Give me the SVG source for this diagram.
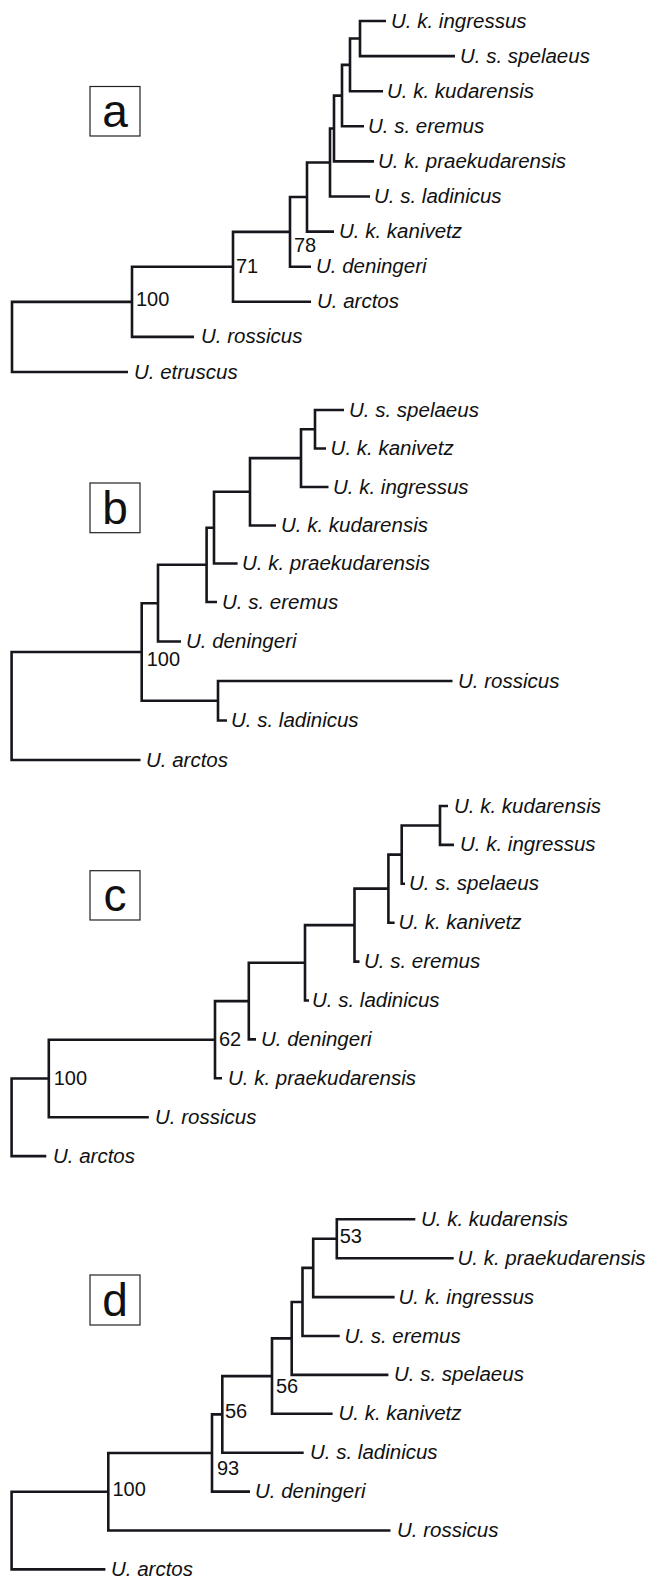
<svg xmlns="http://www.w3.org/2000/svg" width="646" height="1577" viewBox="0 0 646 1577">
<style>
.br{fill:none;stroke:#16161c;stroke-width:2.6;stroke-linejoin:miter;stroke-linecap:butt}
.lf{font-family:"Liberation Sans",Arial,sans-serif;font-style:italic;font-size:20.5px;fill:#111}
.sv{font-family:"Liberation Sans",Arial,sans-serif;font-size:20px;fill:#111}
.bx{fill:#fff;stroke:#222;stroke-width:1.2}
.pl{font-family:"Liberation Sans",Arial,sans-serif;font-size:46px;fill:#111;text-anchor:middle}
</style>
<rect width="646" height="1577" fill="#fff"/>
<g id="connectors">
<!-- panel a -->
<path class="br" d="M386,21 H360 V56.1 H455"/>
<path class="br" d="M360,38.5 H350 V91.2 H383"/>
<path class="br" d="M350,64.9 H342 V126.3 H364"/>
<path class="br" d="M342,95.6 H334 V161.4 H374"/>
<path class="br" d="M334,128.5 H330 V196.5 H370"/>
<path class="br" d="M330,162.5 H307 V231.6 H334"/>
<path class="br" d="M307,197 H290 V266.7 H311"/>
<path class="br" d="M290,231.9 H233 V301.8 H311"/>
<path class="br" d="M233,266.8 H132 V336.9 H194"/>
<path class="br" d="M132,301.9 H12 V372 H128"/>
<!-- panel b -->
<path class="br" d="M344,410 H315 V448.5 H326"/>
<path class="br" d="M315,429.25 H301 V487 H328.5"/>
<path class="br" d="M301,458.1 H250 V525.5 H276"/>
<path class="br" d="M250,491.8 H214 V563.5 H237.6"/>
<path class="br" d="M214,527.7 H206.6 V602 H217"/>
<path class="br" d="M206.6,564.8 H158 V641.5 H181"/>
<path class="br" d="M452.5,681 H218 V720.5 H227"/>
<path class="br" d="M158,603.2 H141.7 V700.75 H218"/>
<path class="br" d="M141.7,652 H11.6 V760 H140.5"/>
<!-- panel c -->
<path class="br" d="M448,806 H440 V844.9 H454"/>
<path class="br" d="M440,825.45 H401.7 V883.8 H405"/>
<path class="br" d="M401.7,854.6 H388.4 V922.7 H394.6"/>
<path class="br" d="M388.4,888.65 H354.5 V961.6 H359.5"/>
<path class="br" d="M354.5,925.1 H305 V1000.5 H309"/>
<path class="br" d="M305,962.8 H248.8 V1039.4 H256"/>
<path class="br" d="M248.8,1001.1 H215 V1078.3 H222"/>
<path class="br" d="M215,1039.7 H48.8 V1117.2 H148.8"/>
<path class="br" d="M48.8,1078.45 H11.6 V1156.1 H46.3"/>
<!-- panel d -->
<path class="br" d="M415.3,1219.3 H336.8 V1258.2 H453.7"/>
<path class="br" d="M336.8,1238.75 H313.2 V1297.1 H394.6"/>
<path class="br" d="M313.2,1267.9 H302.5 V1336 H339.7"/>
<path class="br" d="M302.5,1301.95 H291.7 V1374.9 H388.4"/>
<path class="br" d="M291.7,1338.4 H272 V1413.8 H332.6"/>
<path class="br" d="M272,1376.1 H222.3 V1452.7 H303.7"/>
<path class="br" d="M222.3,1414.4 H212 V1491.6 H250"/>
<path class="br" d="M212,1453 H108.3 V1530.5 H390.5"/>
<path class="br" d="M108.3,1491.75 H11.6 V1569.4 H105.4"/>
</g>
<g id="panel-labels">
<g id="label-a"><rect class="bx" x="90" y="86.5" width="50" height="49.5"/><text class="pl" x="115" y="126.8">a</text></g>
<g id="label-b"><rect class="bx" x="90" y="483" width="50" height="49.7"/><text class="pl" x="115" y="523.5">b</text></g>
<g id="label-c"><rect class="bx" x="90" y="870.7" width="50" height="49.3"/><text class="pl" x="115" y="910.8">c</text></g>
<g id="label-d"><rect class="bx" x="90" y="1275" width="50" height="50"/><text class="pl" x="115" y="1315.5">d</text></g>
</g>
<g id="tree-a">
<g id="a-ingressus"><text class="lf" x="391" y="27.5">U. k. ingressus</text></g>
<g id="a-spelaeus"><text class="lf" x="460" y="62.6">U. s. spelaeus</text></g>
<g id="a-kudarensis"><text class="lf" x="387" y="97.7">U. k. kudarensis</text></g>
<g id="a-eremus"><text class="lf" x="368" y="132.8">U. s. eremus</text></g>
<g id="a-praekudarensis"><text class="lf" x="378" y="167.9">U. k. praekudarensis</text></g>
<g id="a-ladinicus"><text class="lf" x="374" y="203">U. s. ladinicus</text></g>
<g id="a-kanivetz"><text class="lf" x="339" y="238.1">U. k. kanivetz</text></g>
<g id="a-deningeri"><text class="lf" x="316" y="273.2">U. deningeri</text></g>
<g id="a-arctos"><text class="lf" x="317" y="308.3">U. arctos</text></g>
<g id="a-rossicus"><text class="lf" x="201" y="343.4">U. rossicus</text></g>
<g id="a-etruscus"><text class="lf" x="134" y="378.5">U. etruscus</text></g>
<g id="a-s100"><text class="sv" x="136" y="306">100</text></g>
<g id="a-s71"><text class="sv" x="236" y="273">71</text></g>
<g id="a-s78"><text class="sv" x="294" y="252">78</text></g>
</g>
<g id="tree-b">
<g id="b-spelaeus"><text class="lf" x="349" y="416.5">U. s. spelaeus</text></g>
<g id="b-kanivetz"><text class="lf" x="330.6" y="455">U. k. kanivetz</text></g>
<g id="b-ingressus"><text class="lf" x="333" y="493.5">U. k. ingressus</text></g>
<g id="b-kudarensis"><text class="lf" x="281" y="532">U. k. kudarensis</text></g>
<g id="b-praekudarensis"><text class="lf" x="242" y="570">U. k. praekudarensis</text></g>
<g id="b-eremus"><text class="lf" x="222" y="608.5">U. s. eremus</text></g>
<g id="b-deningeri"><text class="lf" x="186" y="648">U. deningeri</text></g>
<g id="b-rossicus"><text class="lf" x="458" y="687.5">U. rossicus</text></g>
<g id="b-ladinicus"><text class="lf" x="231" y="727">U. s. ladinicus</text></g>
<g id="b-arctos"><text class="lf" x="146" y="766.5">U. arctos</text></g>
<g id="b-s100"><text class="sv" x="146.7" y="666">100</text></g>
</g>
<g id="tree-c">
<g id="c-kudarensis"><text class="lf" x="454" y="812.5">U. k. kudarensis</text></g>
<g id="c-ingressus"><text class="lf" x="460" y="851.4">U. k. ingressus</text></g>
<g id="c-spelaeus"><text class="lf" x="409" y="890.3">U. s. spelaeus</text></g>
<g id="c-kanivetz"><text class="lf" x="398.5" y="929.2">U. k. kanivetz</text></g>
<g id="c-eremus"><text class="lf" x="364" y="968.1">U. s. eremus</text></g>
<g id="c-ladinicus"><text class="lf" x="312" y="1007">U. s. ladinicus</text></g>
<g id="c-deningeri"><text class="lf" x="261" y="1045.9">U. deningeri</text></g>
<g id="c-praekudarensis"><text class="lf" x="228" y="1084.8">U. k. praekudarensis</text></g>
<g id="c-rossicus"><text class="lf" x="155" y="1123.7">U. rossicus</text></g>
<g id="c-arctos"><text class="lf" x="53" y="1162.6">U. arctos</text></g>
<g id="c-s62"><text class="sv" x="219" y="1046">62</text></g>
<g id="c-s100"><text class="sv" x="53.7" y="1085">100</text></g>
</g>
<g id="tree-d">
<g id="d-kudarensis"><text class="lf" x="421" y="1225.8">U. k. kudarensis</text></g>
<g id="d-praekudarensis"><text class="lf" x="457.5" y="1264.7">U. k. praekudarensis</text></g>
<g id="d-ingressus"><text class="lf" x="398.5" y="1303.6">U. k. ingressus</text></g>
<g id="d-eremus"><text class="lf" x="344.5" y="1342.5">U. s. eremus</text></g>
<g id="d-spelaeus"><text class="lf" x="394" y="1381.4">U. s. spelaeus</text></g>
<g id="d-kanivetz"><text class="lf" x="338.5" y="1420.3">U. k. kanivetz</text></g>
<g id="d-ladinicus"><text class="lf" x="310" y="1459.2">U. s. ladinicus</text></g>
<g id="d-deningeri"><text class="lf" x="255" y="1498.1">U. deningeri</text></g>
<g id="d-rossicus"><text class="lf" x="397" y="1537">U. rossicus</text></g>
<g id="d-arctos"><text class="lf" x="111" y="1575.9">U. arctos</text></g>
<g id="d-s53"><text class="sv" x="339.7" y="1243">53</text></g>
<g id="d-s56a"><text class="sv" x="276" y="1393">56</text></g>
<g id="d-s56b"><text class="sv" x="225" y="1418">56</text></g>
<g id="d-s93"><text class="sv" x="217" y="1475">93</text></g>
<g id="d-s100"><text class="sv" x="112.4" y="1496">100</text></g>
</g>
</svg>
